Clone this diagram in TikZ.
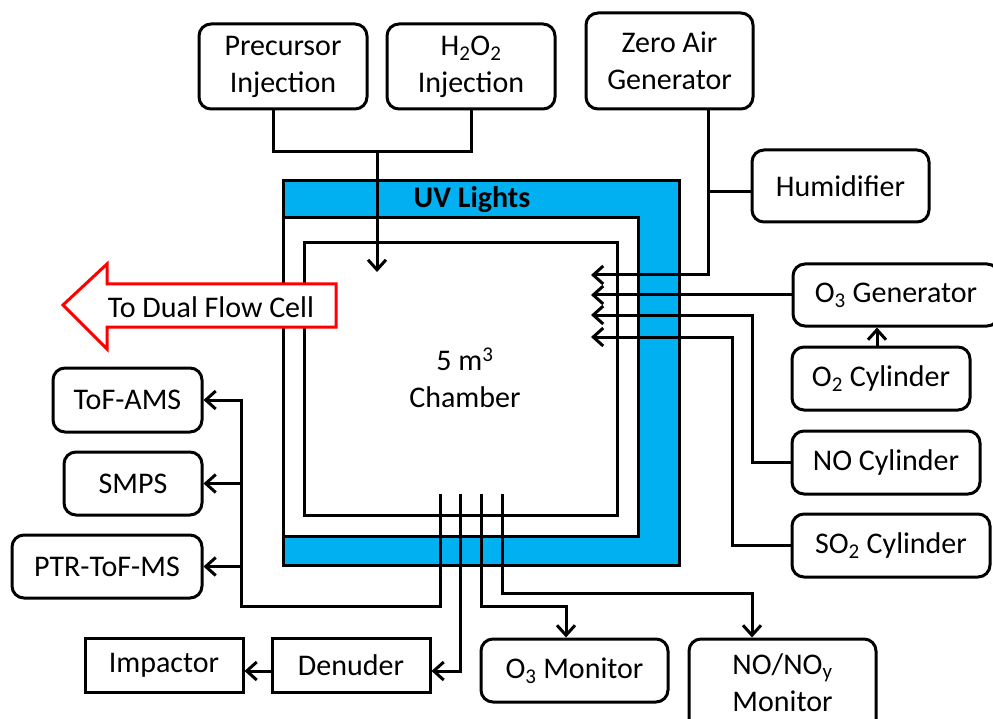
\documentclass[tikz,border=0pt]{standalone}
\usepackage{fontspec}
\setmainfont{Carlito}
\usetikzlibrary{arrows.meta}
\definecolor{uvblue}{HTML}{00B0F0}
\definecolor{flowred}{HTML}{FF0000}
\begin{document}
\begin{tikzpicture}[x=1pt,y=-1pt,line width=3pt,
  every node/.style={font=\fontsize{30}{37}\selectfont, inner sep=0pt, align=center},
  rbox/.style={draw, rounded corners=12pt, fill=white},
  sbox/.style={draw, fill=white},
  arr/.style={-{Straight Barb[length=10pt,width=18pt,line width=3pt]}},
  line join=miter]
\useasboundingbox (0,0) rectangle (993,719);
% chamber
\fill[uvblue] (283,181) rectangle (679,565);
\draw (283,181) rectangle (679,565);
\filldraw[fill=white] (283,218) rectangle (638,536);
\draw (304,243) rectangle (617,515);
\node[font=\fontsize{30}{37}\selectfont\bfseries] (uv) at (472,200) {UV Lights};
\node (ch) at (465,378) {5 m\textsuperscript{3}\\Chamber};
% boxes
\node[rbox, minimum width=168, minimum height=85] (pre) at (283,66.5) {Precursor\\Injection};
\node[rbox, minimum width=168, minimum height=85] (h2o2) at (471,66.5) {H\textsubscript{2}O\textsubscript{2}\\Injection};
\node[rbox, minimum width=167, minimum height=96] (zero) at (669.5,61) {Zero Air\\Generator};
\node[rbox, minimum width=177, minimum height=72] (hum) at (840.5,186) {Humidifier};
\node[rbox, minimum width=206, minimum height=62] (o3g) at (896,295) {O\textsubscript{3} Generator};
\node[rbox, minimum width=178, minimum height=63] (o2c) at (881,378.5) {O\textsubscript{2} Cylinder};
\node[rbox, minimum width=188, minimum height=63] (noc) at (886,462.5) {NO Cylinder};
\node[rbox, minimum width=198, minimum height=63] (so2c) at (891,545.5) {SO\textsubscript{2} Cylinder};
\node[rbox, minimum width=149, minimum height=64] (tof) at (127.5,400) {ToF-AMS};
\node[rbox, minimum width=138, minimum height=63] (smps) at (133,483.5) {SMPS};
\node[rbox, minimum width=190, minimum height=63] (ptr) at (107,566.5) {PTR-ToF-MS};
\node[sbox, minimum width=158, minimum height=54] (imp) at (164,665) {Impactor};
\node[sbox, minimum width=158, minimum height=54] (den) at (351,665) {Denuder};
\node[rbox, minimum width=187, minimum height=63] (o3m) at (574.5,670.5) {O\textsubscript{3} Monitor};
\node[rbox, minimum width=187, minimum height=98] (nom) at (782.5,688) {};
\node (nomt) at (782.5,683) {NO/NO\textsubscript{y}\\Monitor};
% coordinates
\coordinate (inj) at (377,272);
\coordinate (in1) at (591,275);
\coordinate (in2) at (591,295);
\coordinate (in3) at (591,315);
\coordinate (in4) at (591,337);
\coordinate (b1) at (440,494);
\coordinate (b2) at (460,494);
\coordinate (b3) at (481,494);
\coordinate (b4) at (502,494);
% top injection
\draw ([xshift=-10pt]pre.south) -- ++(0,41) -| (h2o2.south);
\draw[arr] (377,150) -- (inj);
% right side
\draw[arr] ([xshift=38.5pt]zero.south) |- (in1);
\draw ([yshift=-6pt]hum.west) -- ++(-44,0);
\draw[arr] (o3g.west) -- (in2);
\draw[arr] ([xshift=-4pt]o2c.north) -- ([xshift=-4pt]o2c.north |- o3g.south);
\draw[arr] (noc.west) -| (752,315) -- (in3);
\draw[arr] (so2c.west) -| (732,337) -- (in4);
% bottom / left
\draw[arr] (b1) -- (440,606) -| (241,400) -- (tof.east);
\draw[arr] (241,483.5) -- (smps.east);
\draw[arr] (241,566.5) -- (ptr.east);
\draw[arr] (b2) |- ([yshift=-6pt]den.east);
\draw[arr] ([yshift=-6pt]den.west) -- ([yshift=-6pt]imp.east);
\draw[arr] (b3) -- (481,606) -| ([xshift=-8.5pt]o3m.north);
\draw[arr] (b4) -- (502,593) -| ([xshift=-30.5pt]nom.north);
% red arrow
\filldraw[draw=flowred, fill=white] (63,305) -- (107,264) -- (107,284) -- (336,284) -- (336,327) -- (107,327) -- (107,349) -- cycle;
\node (dual) at (211,307) {To Dual Flow Cell};
\end{tikzpicture}
\end{document}
